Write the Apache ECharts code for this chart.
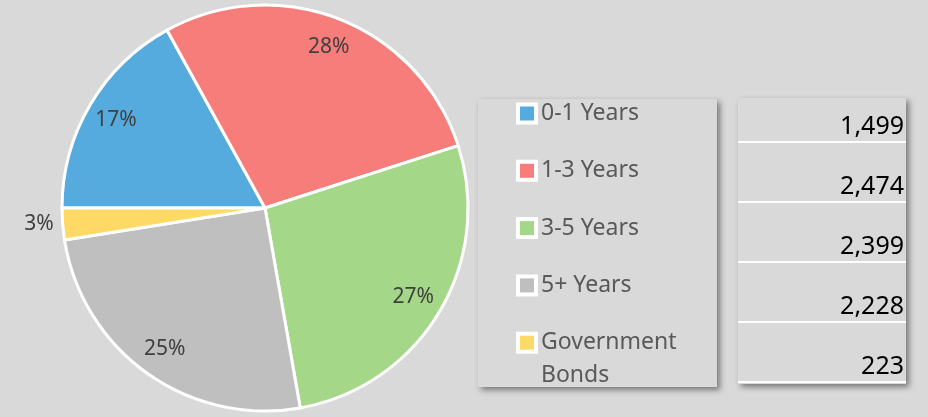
<!DOCTYPE html>
<html>
<head>
<meta charset="utf-8">
<script src="https://cdn.jsdelivr.net/npm/echarts@6/dist/echarts.min.js"></script>
<style>html,body{margin:0;padding:0;background:#d9d9d9;}#c{width:928px;height:417px;}</style>
</head>
<body>
<div id="c"></div>
<script>
const categories = ['0-1 Years', '1-3 Years', '3-5 Years', '5+ Years', 'Government Bonds'];
const values = [1499, 2474, 2399, 2228, 223];
const valueLabels = ['1,499', '2,474', '2,399', '2,228', '223'];
const colors = ['#55abdd', '#f77d7b', '#a4d888', '#bfbfbf', '#ffd966'];
const outsideLabels = ['Government Bonds'];
const legendLines = { 'Government Bonds': ['Government', 'Bonds'] };

const FONT = 'Noto Sans';
const chart = echarts.init(document.getElementById('c'));

const rich = {
  g: { width: 7, lineHeight: 24 },
  sp: { width: 21, lineHeight: 42 },
  t: { fontSize: 23, color: '#595959', fontFamily: FONT, lineHeight: 24 },
  t2: { fontSize: 23, color: '#595959', fontFamily: FONT, lineHeight: 42 }
};
colors.forEach((c, i) => {
  rich['m' + i] = { width: 14, height: 14, backgroundColor: c, borderColor: '#ffffff', borderWidth: 4, lineHeight: 24 };
});

// table layout (rows computed, not data positions)
const tbl = { x: 738, y: 98, w: 168, h: 286, firstLine: 142, rowH: 60, textOff: 15 };
const graphics = [
  { type: 'rect', z: 0, shape: { x: 478, y: 99, width: 239, height: 288 },
    style: { fill: '#d9d9d9', shadowBlur: 6, shadowOffsetX: 3, shadowOffsetY: 3, shadowColor: 'rgba(0,0,0,0.45)' } },
  { type: 'rect', z: 0, shape: { x: tbl.x, y: tbl.y, width: tbl.w, height: tbl.h },
    style: { fill: '#d9d9d9', shadowBlur: 6, shadowOffsetX: 3, shadowOffsetY: 3, shadowColor: 'rgba(0,0,0,0.45)' } }
];
valueLabels.forEach((v, i) => {
  const ly = tbl.firstLine + i * tbl.rowH;
  graphics.push({ type: 'line', z: 5, shape: { x1: tbl.x, y1: ly, x2: tbl.x + tbl.w, y2: ly },
    style: { stroke: '#ffffff', lineWidth: 2 } });
  graphics.push({ type: 'text', z: 5, x: tbl.x + tbl.w - 2, y: ly - tbl.textOff,
    style: { text: v, fill: '#000000', font: '25px "' + FONT + '"', textAlign: 'right', textVerticalAlign: 'middle' } });
});

const pieData = categories.map((n, i) => ({
  name: n, value: values[i],
  label: { show: outsideLabels.indexOf(n) >= 0 }
}));
const overlayData = categories.map((n, i) => ({
  name: n, value: values[i],
  label: { show: outsideLabels.indexOf(n) < 0 }
}));

chart.setOption({
  backgroundColor: '#d9d9d9',
  animation: false,
  color: colors,
  graphic: graphics,
  legend: {
    orient: 'vertical', left: 513, top: 102, padding: 0,
    icon: 'none', itemWidth: 2, itemHeight: 2, itemGap: 34.3,
    selectedMode: false,
    data: categories,
    formatter: function (name) {
      const i = categories.indexOf(name);
      const lines = legendLines[name] || [name];
      let s = '{m' + i + '|}{g|}{t|' + lines[0] + '}';
      for (let k = 1; k < lines.length; k++) s += '\n{sp|}{t2|' + lines[k] + '}';
      return s;
    },
    textStyle: { rich: rich }
  },
  series: [
    {
      type: 'pie', center: [265, 208], radius: [0, 203], startAngle: 180, clockwise: true,
      itemStyle: { borderColor: '#ffffff', borderWidth: 3 },
      label: { position: 'outside', formatter: p => Math.round(p.percent) + '%',
        fontSize: 21, color: '#404040', fontFamily: FONT, distanceToLabelLine: 5 },
      labelLine: { show: false, length: 2, length2: 2 },
      emphasis: { disabled: true },
      data: pieData
    },
    {
      type: 'pie', center: [265, 208], radius: [137, 203], startAngle: 180, clockwise: true,
      silent: true,
      itemStyle: { color: 'rgba(0,0,0,0)', borderWidth: 0 },
      label: { position: 'inside', formatter: p => Math.round(p.percent) + '%',
        fontSize: 21, color: '#404040', fontFamily: FONT },
      labelLine: { show: false },
      emphasis: { disabled: true },
      data: overlayData
    }
  ]
});
</script>
</body>
</html>
